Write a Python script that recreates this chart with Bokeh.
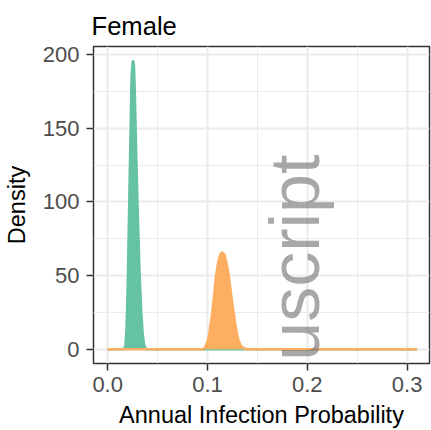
import math
from bokeh.plotting import figure
from bokeh.models import Range1d, FixedTicker, Label
from bokeh.embed import file_html
from bokeh.resources import INLINE

# ---- data ----
green_x = [0.0, 0.0165, 0.0177, 0.0187, 0.0195, 0.0203, 0.0215, 0.0227, 0.0240, 0.0250, 0.0257,
           0.0264, 0.0273, 0.0283, 0.0300, 0.0320, 0.0335, 0.0350, 0.0365, 0.0385, 0.310]
green_y = [0, 0, 3, 11, 28, 51, 96, 141, 186, 195, 196,
           192, 172, 141, 96, 51, 27, 11, 3, 0, 0]

orange_x = [0.0, 0.0955, 0.0975, 0.1005, 0.1025, 0.1048, 0.1068, 0.1088, 0.1110, 0.1130, 0.1148,
            0.1168, 0.1190, 0.1211, 0.1235, 0.1261, 0.1285, 0.1310, 0.1335, 0.1365, 0.1400, 0.310]
orange_y = [0, 0, 1, 6, 14, 25, 38, 51, 60, 64.5, 65.8,
            64.5, 59, 51, 38, 25, 14, 6, 2.2, 0.6, 0, 0]

x_ticks = [0.0, 0.1, 0.2, 0.3]
x_tick_labels = ["0.0", "0.1", "0.2", "0.3"]
x_minor = [0.05, 0.15, 0.25]
y_ticks = [0, 50, 100, 150, 200]
y_minor = [25, 75, 125, 175]

title_text = "Female"
x_title = "Annual Infection Probability"
y_title = "Density"
watermark = "uscript"   # visible (inside-panel) part of the "Manuscript" watermark

GREEN = "#66C2A5"
ORANGE = "#FDAE61"
FONT = "Liberation Sans"

p = figure(width=431, height=430, output_backend="svg", toolbar_location=None,
           x_range=Range1d(-0.0142, 0.3224), y_range=Range1d(-9.7, 205.6),
           min_border_left=92, min_border_right=2, min_border_top=46, min_border_bottom=67)

p.background_fill_color = "white"
p.border_fill_color = "white"
p.outline_line_color = "#333333"
p.outline_line_width = 1.5

# title
p.title.text = title_text
p.title.text_font = FONT
p.title.text_font_size = "25.6px"
p.title.text_font_style = "normal"
p.title.text_color = "black"
p.title.align = "left"
p.title.vertical_align = "bottom"
p.title.offset = -2
p.title.standoff = 14

# grids
for g, major, minor in ((p.xgrid[0], x_ticks, x_minor), (p.ygrid[0], y_ticks, y_minor)):
    g.ticker = FixedTicker(ticks=major, minor_ticks=minor)
    g.grid_line_color = "#EBEBEB"
    g.grid_line_width = 2
    g.minor_grid_line_color = "#EBEBEB"
    g.minor_grid_line_width = 1

# axes
p.xaxis.ticker = FixedTicker(ticks=x_ticks, minor_ticks=[])
p.xaxis.major_label_overrides = {t: l for t, l in zip(x_ticks, x_tick_labels)}
p.yaxis.ticker = FixedTicker(ticks=y_ticks, minor_ticks=[])
p.xaxis.axis_label = x_title
p.yaxis.axis_label = y_title
for ax in (p.xaxis[0], p.yaxis[0]):
    ax.axis_line_color = None
    ax.major_tick_line_color = "#333333"
    ax.major_tick_line_width = 1.5
    ax.major_tick_out = 7
    ax.major_tick_in = 0
    ax.minor_tick_line_color = None
    ax.major_label_text_font = FONT
    ax.major_label_text_font_size = "22px"
    ax.major_label_text_color = "#4D4D4D"
    ax.axis_label_text_font = FONT
    ax.axis_label_text_font_size = "23.5px"
    ax.axis_label_text_font_style = "normal"
    ax.axis_label_text_color = "black"
p.xaxis.major_label_standoff = 6
p.xaxis.axis_label_standoff = 7
p.yaxis.major_label_standoff = 7
p.yaxis.axis_label_standoff = 10

# densities
p.varea(x=green_x, y1=0, y2=green_y, fill_color=GREEN)
p.line(x=green_x, y=green_y, line_color=GREEN, line_width=2.5)
p.varea(x=orange_x, y1=0, y2=orange_y, fill_color=ORANGE)
p.line(x=orange_x, y=orange_y, line_color=ORANGE, line_width=2.5)

# watermark (semi-transparent)
wm = Label(x=0.1875, y=132.2, text=watermark, angle=math.pi / 2,
           text_align="right", text_baseline="alphabetic",
           text_font=FONT, text_font_size="70px", text_color="#6E6E6E",
           text_alpha=0.6)
p.add_layout(wm)

open("out.html", "w").write(file_html(p, INLINE))
